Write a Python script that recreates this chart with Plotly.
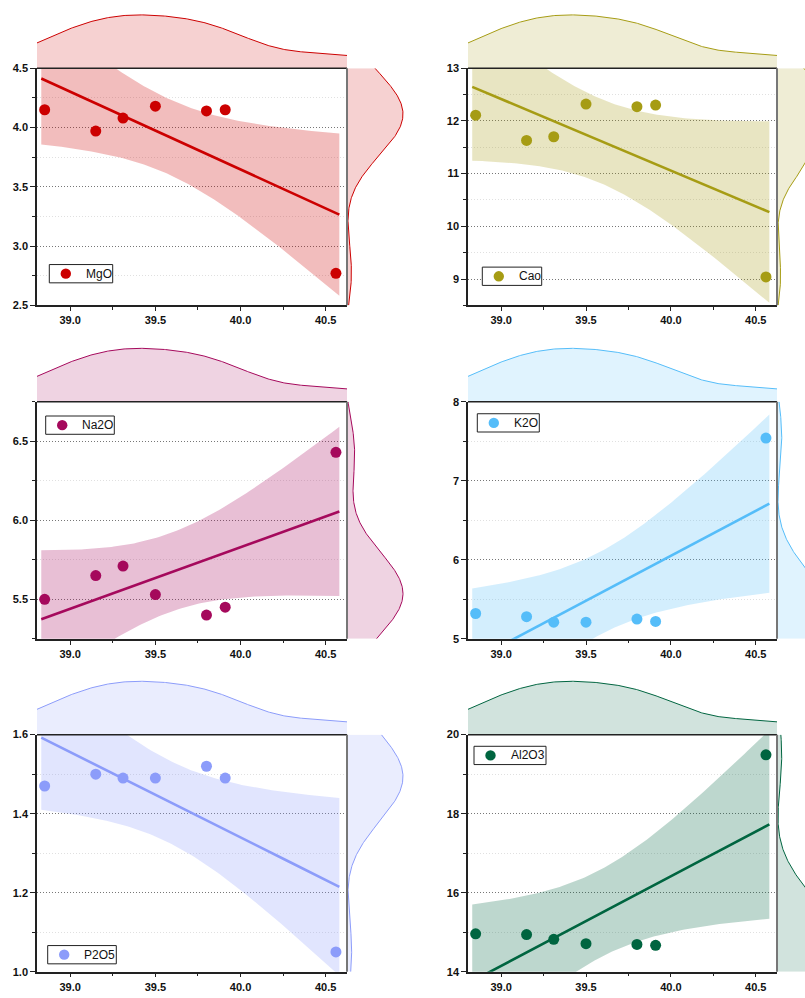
import numpy as np
import plotly.graph_objects as go

# ---------------- data ----------------
x_vals = [38.85, 39.15, 39.31, 39.50, 39.80, 39.91, 40.56]

mgo = [4.15, 3.97, 4.08, 4.18, 4.14, 4.15, 2.77]
cao = [12.11, 11.63, 11.70, 12.32, 12.27, 12.30, 9.04]
na2o = [5.50, 5.65, 5.71, 5.53, 5.40, 5.45, 6.43]
k2o = [5.32, 5.28, 5.21, 5.21, 5.25, 5.22, 7.54]
p2o5 = [1.47, 1.50, 1.49, 1.49, 1.52, 1.49, 1.05]
al2o3 = [14.96, 14.94, 14.82, 14.71, 14.69, 14.67, 19.49]

series_names = ["MgO", "Cao", "Na2O", "K2O", "P2O5", "Al2O3"]
series_values = [mgo, cao, na2o, k2o, p2o5, al2o3]

x_range = [38.805, 40.625]
x_tickvals = [39.0, 39.5, 40.0, 40.5]
x_minorvals = [39.25, 39.75, 40.25]

y_ranges = [[2.5, 4.5], [8.5, 13.0], [5.25, 6.75], [5.0, 8.0], [1.0, 1.6], [14.0, 20.0]]
y_dticks = [0.5, 1.0, 0.5, 1.0, 0.2, 2.0]
y_formats = [".1f", "d", ".1f", "d", ".1f", "d"]

# ---------------- style / layout ----------------
colors = ["#cc0000", "#a69c14", "#a5095c", "#55bdf9", "#8c9cfa", "#006540"]
# legend boxes: left, top, width (px)
legend_boxes = [(49.3, 261.7, 63.4), (482.3, 264.3, 59.4), (45.7, 415.0, 68.6),
                (477.3, 412.7, 62.0), (47.7, 951.0, 68.6), (474.0, 749.3, 72.0)]
LEG_H = 18.5

W, H = 805, 998
col_x0 = [37, 468]
col_x1 = [347, 777]
row_y0 = [63, 400.5, 737.5]
PLOT_H = 240
MARG = 60
T_CRIT = 2.5706   # t(0.975, df=5)
BW_X = 0.75
BW_Y = 1.0
FONT = "Arial, Liberation Sans, sans-serif"


def rgba(hexc, a):
    hexc = hexc.lstrip("#")
    r, g, b = int(hexc[0:2], 16), int(hexc[2:4], 16), int(hexc[4:6], 16)
    return f"rgba({r},{g},{b},{a})"


def kde(data, grid, adjust):
    d = np.asarray(data, float)
    n = len(d)
    h = d.std(ddof=1) * n ** (-1 / 5) * adjust
    z = (np.asarray(grid, float)[:, None] - d[None, :]) / h
    return np.exp(-0.5 * z ** 2).sum(1) / (n * h * np.sqrt(2 * np.pi))


def xd(px):
    return px / W


def yd(py):
    return 1 - py / H


fig = go.Figure()
layout = {}
shapes = []
annotations = []

xa = np.asarray(x_vals)
n = len(xa)
xgrid = np.linspace(x_range[0], x_range[1], 300)
kx = kde(x_vals, xgrid, BW_X)

for i, (name, vals) in enumerate(zip(series_names, series_values)):
    c = colors[i]
    row, col = divmod(i, 2)
    k_main, k_top, k_right = 3 * i + 1, 3 * i + 2, 3 * i + 3
    sfx = lambda k: "" if k == 1 else str(k)
    X0, X1 = col_x0[col], col_x1[col]
    Y0 = row_y0[row]
    Y1 = Y0 + PLOT_H
    yr = y_ranges[i]
    ya = np.asarray(vals, float)

    # regression + confidence band
    slope, icpt = np.polyfit(xa, ya, 1)
    xf = np.linspace(xa.min() - 0.02, xa.max() + 0.02, 120)
    yf = slope * xf + icpt
    resid = ya - (slope * xa + icpt)
    s = np.sqrt((resid ** 2).sum() / n)
    sxx = ((xa - xa.mean()) ** 2).sum()
    se = s * np.sqrt(1 / n + (xf - xa.mean()) ** 2 / sxx)
    up, lo = yf + T_CRIT * se, yf - T_CRIT * se

    xm, ym = f"x{sfx(k_main)}", f"y{sfx(k_main)}"

    fig.add_trace(go.Scatter(
        x=np.concatenate([xf, xf[::-1]]), y=np.concatenate([up, lo[::-1]]),
        fill="toself", fillcolor=rgba(c, 0.26), line=dict(width=0),
        mode="lines", hoverinfo="skip", showlegend=False, xaxis=xm, yaxis=ym))
    fig.add_trace(go.Scatter(
        x=xf, y=yf, mode="lines", line=dict(color=c, width=2.6),
        showlegend=False, xaxis=xm, yaxis=ym))
    fig.add_trace(go.Scatter(
        x=x_vals, y=vals, mode="markers", name=name,
        marker=dict(color=c, size=11, line=dict(width=0)),
        showlegend=False, xaxis=xm, yaxis=ym))

    # top marginal (kde of x)
    kmin, kmax = kx.min(), kx.max()
    tlow = kmin - 0.315 * (kmax - kmin)
    thigh = tlow + (kmax - tlow) * MARG / 54
    fig.add_trace(go.Scatter(
        x=xgrid, y=kx, mode="lines", fill="tozeroy", fillcolor=rgba(c, 0.18),
        line=dict(color=c, width=1), showlegend=False, hoverinfo="skip",
        xaxis=f"x{k_top}", yaxis=f"y{k_top}"))

    # right marginal (kde of y)
    ygrid = np.linspace(yr[0], yr[1], 300)
    ky = kde(vals, ygrid, BW_Y)
    rmin, rmax = ky.min(), ky.max()
    rlow = rmin - (1.0 / 55) * (rmax - rmin)
    rhigh = rlow + (rmax - rlow) * MARG / 56
    rx0 = X1
    rx1 = min(X1 + MARG, W)
    vis = (rx1 - rx0) / MARG
    fig.add_trace(go.Scatter(
        x=ky, y=ygrid, mode="lines", fill="tozerox", fillcolor=rgba(c, 0.18),
        line=dict(color=c, width=1), showlegend=False, hoverinfo="skip",
        xaxis=f"x{k_right}", yaxis=f"y{k_right}"))

    eps = (yr[1] - yr[0]) * 1e-6
    tickfont = dict(family=FONT, size=11, color="#111", weight="bold")
    layout[f"xaxis{sfx(k_main)}"] = dict(
        domain=[xd(X0), xd(X1)], anchor=ym, range=x_range,
        tickmode="array", tickvals=x_tickvals, tickformat=".1f",
        ticks="outside", ticklen=4, tickwidth=1, tickcolor="#222",
        showline=True, linecolor="#222", linewidth=1.5,
        showgrid=False, zeroline=False, tickfont=tickfont,
        minor=dict(tickmode="array", tickvals=x_minorvals,
                   ticks="outside", ticklen=2.5, tickcolor="#222", showgrid=False))
    layout[f"yaxis{sfx(k_main)}"] = dict(
        domain=[yd(Y1), yd(Y0)], anchor=xm, range=[yr[0] - eps, yr[1] + eps],
        tick0=0, dtick=y_dticks[i], tickformat=y_formats[i],
        ticks="outside", ticklen=5, tickwidth=1, tickcolor="#222",
        showline=True, linecolor="#222", linewidth=1.5,
        showgrid=True, gridcolor="#777777", griddash="1px,2px", gridwidth=1,
        zeroline=False, tickfont=tickfont,
        minor=dict(tick0=0, dtick=y_dticks[i] / 2, ticks="outside", ticklen=3,
                   tickcolor="#222", showgrid=True, gridcolor="#e0e0e0", gridwidth=1))

    hidden = dict(showticklabels=False, showgrid=False, zeroline=False,
                  showline=False, ticks="")
    layout[f"xaxis{k_top}"] = dict(domain=[xd(X0), xd(X1)], anchor=f"y{k_top}",
                                   range=x_range, **hidden)
    layout[f"yaxis{k_top}"] = dict(domain=[yd(Y0), yd(Y0 - MARG)], anchor=f"x{k_top}",
                                   range=[tlow, thigh], **hidden)
    layout[f"xaxis{k_right}"] = dict(domain=[xd(rx0), xd(rx1)], anchor=f"y{k_right}",
                                     range=[rlow, rlow + (rhigh - rlow) * vis], **hidden)
    layout[f"yaxis{k_right}"] = dict(domain=[yd(Y1), yd(Y0)], anchor=f"x{k_right}",
                                     range=[yr[0] - eps, yr[1] + eps], **hidden)

    # top and right frame edges
    shapes.append(dict(type="line", xref=f"{xm} domain", yref=f"{ym} domain",
                       x0=0, x1=1, y0=1, y1=1, line=dict(color="#222", width=1.5)))
    shapes.append(dict(type="line", xref=f"{xm} domain", yref=f"{ym} domain",
                       x0=1, x1=1, y0=0, y1=1, line=dict(color="#777", width=2)))

    # legend box (boxed key as in the reference)
    lx, ly, lw = legend_boxes[i]
    shapes.append(dict(type="rect", xref="paper", yref="paper",
                       x0=xd(lx), x1=xd(lx + lw), y0=yd(ly + LEG_H), y1=yd(ly),
                       fillcolor="white", line=dict(color="#222", width=1)))
    cx, cy, r = lx + 16.5, ly + LEG_H / 2, 5.2
    shapes.append(dict(type="circle", xref="paper", yref="paper",
                       x0=xd(cx - r), x1=xd(cx + r), y0=yd(cy + r), y1=yd(cy - r),
                       fillcolor=c, line=dict(width=0)))
    annotations.append(dict(text=name, xref="paper", yref="paper",
                            x=xd(lx + 34.5), y=yd(cy), xanchor="left", yanchor="middle",
                            showarrow=False, font=dict(family=FONT, size=12, color="#111")))

fig.update_layout(
    width=W, height=H, margin=dict(l=0, r=0, t=0, b=0),
    paper_bgcolor="white", plot_bgcolor="white", showlegend=False,
    font=dict(family=FONT, size=11, color="#111"),
    shapes=shapes, annotations=annotations, **layout)

fig.write_html("out.html", config={"displayModeBar": False},
               post_script="document.body.style.margin='0px';document.body.style.overflow='hidden';")
